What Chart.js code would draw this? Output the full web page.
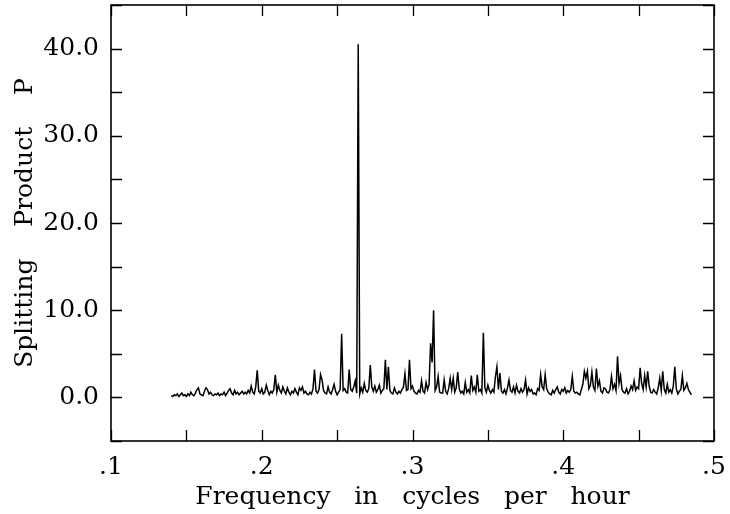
<!DOCTYPE html>
<html>
<head>
<meta charset="utf-8">
<script src="https://cdn.jsdelivr.net/npm/chart.js@4.4.1/dist/chart.umd.min.js"></script>
<style>
  html, body { margin: 0; padding: 0; background: #fff; }
  #wrap { width: 730px; height: 514px; }
</style>
</head>
<body>
<div id="wrap"><canvas id="spectrumChart" width="730" height="514"></canvas></div>
<script>
// frequency grid in cycles per hour (first sample, spacing)
const freqStart = 0.140;
const freqStep = 0.001;

// splitting product P, one value per grid step
const splitP = [
  0.2, 0.1, 0.3, 0.2, 0.4, 0.1, 0.3, 0.5, 0.2, 0.3,   // .140
  0.1, 0.4, 0.2, 0.6, 0.3, 0.2, 0.5, 0.9, 1.1, 0.4,   // .150
  0.3, 0.2, 0.7, 1.1, 0.9, 0.4, 0.6, 0.3, 0.2, 0.4,   // .160
  0.3, 0.5, 0.2, 0.4, 0.3, 0.6, 0.2, 0.5, 0.8, 1.0,   // .170
  0.5, 0.3, 0.8, 0.4, 0.6, 0.3, 0.5, 0.7, 0.4, 0.6,   // .180
  0.4, 0.8, 0.5, 1.3, 0.6, 0.4, 1.2, 3.1, 0.7, 0.5,   // .190
  1.0, 0.4, 0.6, 1.4, 0.8, 0.3, 0.7, 0.5, 0.9, 2.6,   // .200
  0.6, 1.4, 0.8, 0.5, 1.2, 0.7, 0.4, 1.1, 0.6, 0.3,   // .210
  0.7, 0.5, 1.0, 0.6, 0.3, 1.1, 0.8, 1.2, 0.5, 0.7,   // .220
  0.4, 0.3, 0.6, 0.4, 1.0, 3.2, 0.7, 0.5, 0.9, 2.6,   // .230
  2.0, 0.8, 0.5, 0.4, 1.2, 0.6, 0.4, 0.9, 1.5, 0.7,   // .240
  0.3, 0.6, 0.9, 7.3, 0.8, 1.0, 0.6, 0.5, 3.2, 0.9,   // .250
  0.7, 1.2, 1.9, 0.5, 40.5, 0.4, 1.1, 0.6, 1.6, 0.8,  // .260
  0.6, 1.0, 3.7, 1.2, 0.7, 1.3, 0.6, 0.9, 1.4, 0.5,   // .270
  0.8, 1.0, 4.3, 0.9, 3.5, 0.8, 0.5, 0.4, 1.1, 0.6,   // .280
  0.4, 0.7, 0.5, 0.9, 1.2, 2.7, 0.8, 0.9, 4.3, 1.0,   // .290
  1.3, 0.7, 0.5, 0.4, 0.8, 0.6, 1.9, 0.7, 0.5, 1.7,   // .300
  0.9, 1.5, 6.2, 4.0, 10.0, 0.8, 1.2, 2.4, 0.6, 0.5,  // .310
  0.5, 2.0, 0.7, 0.4, 1.0, 2.2, 0.9, 2.2, 0.6, 1.1,   // .320
  2.9, 1.0, 0.5, 0.7, 0.4, 1.7, 0.6, 0.9, 0.5, 2.5,   // .330
  0.8, 1.2, 0.6, 2.6, 0.7, 0.9, 0.5, 7.4, 1.1, 0.6,   // .340
  1.4, 0.8, 0.5, 0.9, 0.6, 2.4, 3.5, 0.9, 2.8, 0.7,   // .350
  0.5, 0.9, 0.4, 1.1, 2.0, 0.8, 0.6, 1.2, 0.5, 1.4,   // .360
  0.7, 0.5, 1.0, 0.6, 0.9, 2.0, 0.4, 1.1, 0.7, 0.9,   // .370
  0.4, 0.5, 0.3, 1.0, 0.8, 2.6, 1.2, 0.9, 2.6, 1.0,   // .380
  0.6, 0.4, 0.3, 0.8, 0.5, 0.9, 1.2, 0.6, 0.4, 0.9,   // .390
  0.7, 1.1, 0.5, 0.8, 0.6, 0.9, 2.4, 0.7, 0.5, 0.6,   // .400
  0.4, 0.3, 0.9, 1.5, 3.0, 2.2, 3.0, 1.0, 1.4, 2.9,   // .410
  1.2, 0.8, 3.3, 1.3, 1.9, 0.7, 0.5, 1.1, 1.0, 0.6,   // .420
  0.5, 0.9, 2.4, 1.0, 1.5, 0.8, 4.7, 1.6, 2.5, 0.9,   // .430
  0.6, 0.5, 1.0, 0.4, 0.7, 1.3, 0.9, 1.9, 0.8, 1.2,   // .440
  1.0, 3.4, 1.6, 0.9, 2.5, 1.2, 3.0, 1.3, 0.6, 0.5,   // .450
  0.9, 0.6, 0.4, 1.1, 2.2, 0.8, 3.0, 0.9, 0.5, 1.5,   // .460
  0.6, 0.9, 0.5, 1.3, 3.5, 1.0, 0.4, 0.7, 0.9, 2.5,   // .470
  0.8, 1.1, 1.6, 0.9, 0.6, 0.3                        // .480
];

const xLabelTicks = [0.1, 0.2, 0.3, 0.4, 0.5];
const yLabelTicks = [0, 10, 20, 30, 40];

const serif = '"DejaVu Serif", "Liberation Serif", serif';

// pair each value with its frequency for the linear x scale
const points = splitP.map((p, i) => ({ x: freqStart + i * freqStep, y: p }));

// box round the plot with inward ticks on all four sides
const frameTicks = {
  id: 'frameTicks',
  afterDatasetsDraw(chart) {
    const { ctx, chartArea: a, scales: { x, y } } = chart;
    const len = 11;
    ctx.save();
    ctx.strokeStyle = '#000';
    ctx.lineWidth = 1.6;
    ctx.strokeRect(a.left, a.top, a.right - a.left, a.bottom - a.top);
    ctx.lineWidth = 1.3;
    ctx.beginPath();
    x.ticks.forEach(t => {
      const px = Math.round(x.getPixelForValue(t.value)) + 0.5;
      ctx.moveTo(px, a.bottom); ctx.lineTo(px, a.bottom - len);
      ctx.moveTo(px, a.top); ctx.lineTo(px, a.top + len);
    });
    y.ticks.forEach(t => {
      const py = Math.round(y.getPixelForValue(t.value)) + 0.5;
      ctx.moveTo(a.left, py); ctx.lineTo(a.left + len, py);
      ctx.moveTo(a.right, py); ctx.lineTo(a.right - len, py);
    });
    ctx.stroke();
    ctx.restore();
  }
};

// no extra room for end labels: plot box is set by layout padding only
function noEdgePadding(s) {
  s.paddingTop = 0;
  s.paddingBottom = 0;
  s.paddingLeft = 0;
  s.paddingRight = 0;
}

const ctx = document.getElementById('spectrumChart').getContext('2d');
new Chart(ctx, {
  type: 'line',
  data: {
    datasets: [{
      data: points,
      borderColor: '#000',
      borderWidth: 1.5,
      pointRadius: 0,
      tension: 0,
      fill: false
    }]
  },
  options: {
    responsive: false,
    animation: false,
    layout: { padding: { top: 5, right: 16, left: 0, bottom: 0 } },
    plugins: { legend: { display: false }, tooltip: { enabled: false } },
    scales: {
      x: {
        type: 'linear',
        min: 0.1,
        max: 0.5,
        afterBuildTicks: s => {
          s.ticks = [];
          for (let k = 0; k <= 8; k++) s.ticks.push({ value: 0.1 + k * 0.05 });
        },
        afterFit: s => { s.height = 73; noEdgePadding(s); },
        grid: { display: false, drawTicks: false },
        border: { display: false },
        ticks: {
          autoSkip: false,
          maxRotation: 0,
          padding: 11,
          color: '#000',
          font: { family: serif, size: 25 },
          callback: v => {
            const hit = xLabelTicks.find(t => Math.abs(t - v) < 1e-6);
            return hit === undefined ? '' : '.' + Math.round(hit * 10);
          }
        },
        title: {
          display: true,
          text: 'Frequency   in   cycles   per   hour',
          color: '#000',
          font: { family: serif, size: 25 },
          padding: { top: 0, bottom: 2 }
        }
      },
      y: {
        min: -5,
        max: 45,
        afterBuildTicks: s => {
          s.ticks = [];
          for (let v = -5; v <= 45; v += 5) s.ticks.push({ value: v });
        },
        afterFit: s => { s.width = 111; noEdgePadding(s); },
        grid: { display: false, drawTicks: false },
        border: { display: false },
        ticks: {
          autoSkip: false,
          padding: 12,
          color: '#000',
          font: { family: serif, size: 25 },
          callback: v => yLabelTicks.includes(v) ? v.toFixed(1) : ''
        },
        title: {
          display: true,
          text: 'Splitting    Product    P',
          color: '#000',
          font: { family: serif, size: 25 },
          padding: { top: 10, bottom: 0 }
        }
      }
    }
  },
  plugins: [frameTicks]
});
</script>
</body>
</html>
